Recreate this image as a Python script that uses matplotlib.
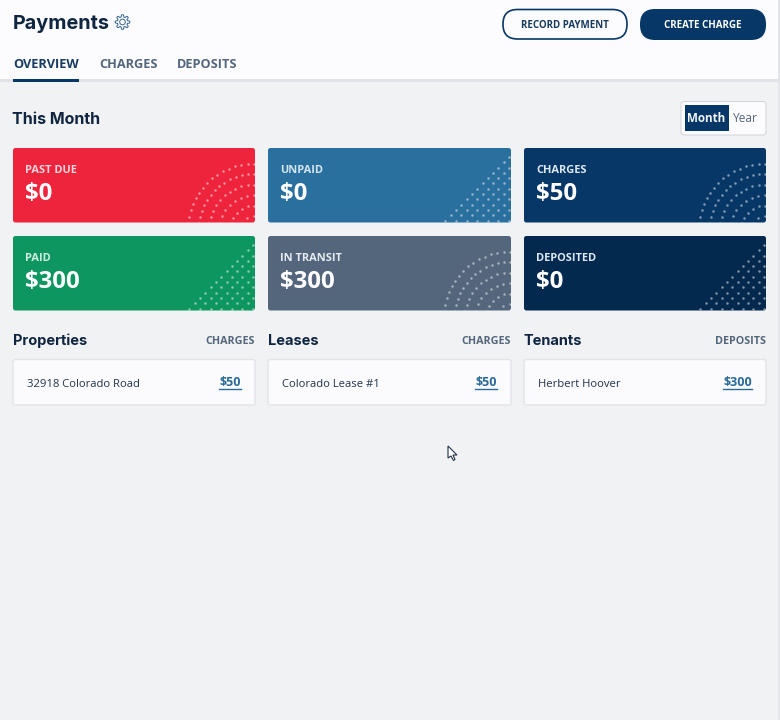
import matplotlib
matplotlib.use("Agg")
import matplotlib.pyplot as plt
from matplotlib.patches import FancyBboxPatch, Rectangle, Polygon, Circle
import numpy as np

BODY = "Open Sans"
HEAD = "Inter"
NAVY = "#063767"
INK = "#0F2540"
GREY = "#53667C"


def px(size):
    return size * 0.72


def box(x0, y0, x1, y1, fc, ec="none", r=3, lw=1.0, z=2):
    p = FancyBboxPatch((x0 + r, y0 + r), x1 - x0 - 2 * r, y1 - y0 - 2 * r,
                       boxstyle=f"round,pad={r},rounding_size={r}",
                       fc=fc, ec=ec, lw=lw, zorder=z)
    ax.add_patch(p)
    return p


def label(x, y, s, size, color, weight="normal", ha="left", family=BODY):
    ax.text(x, y, s, fontsize=px(size), color=color, fontweight=weight,
            ha=ha, va="baseline", family=family, zorder=6)


fig = plt.figure(figsize=(7.8, 7.2), dpi=100, facecolor="#F1F2F4")
ax = fig.add_axes([0, 0, 1, 1])
ax.set_xlim(0, 780)
ax.set_ylim(720, 0)
ax.set_axis_off()

# header
ax.add_patch(Rectangle((0, 0), 778, 79, fc="#FCFCFE", ec="none", zorder=1))
ax.add_patch(Rectangle((0, 79), 778, 3, fc="#E1E3E9", ec="none", zorder=1))
ax.add_patch(Rectangle((778, 0), 2, 720, fc="#E4E5E8", ec="none", zorder=1))
ax.add_patch(Rectangle((13, 79), 66, 3, fc=NAVY, ec="none", zorder=3))

label(12.5, 29, "Payments", 19.9, INK, "bold", family=HEAD)

# gear icon
t = np.linspace(0, 2 * np.pi, 97)
r_gear = 6.2 + 1.1 * np.clip(2.2 * np.cos(8 * t), -1, 1)
ax.add_patch(Polygon(np.c_[122.5 + r_gear * np.cos(t), 22 + r_gear * np.sin(t)],
                     closed=True, fc="none", ec="#3A6890", lw=0.7, zorder=5))
ax.add_patch(Circle((122.5, 22), 2.8, fc="none", ec="#3A6890", lw=0.7, zorder=5))

label(13, 68, "OVERVIEW", 12.7, "#173B61", "bold")
label(99.5, 68, "CHARGES", 12.7, GREY, "bold")
label(177, 68, "DEPOSITS", 12.8, GREY, "bold")

# buttons
box(503, 9.5, 627, 39, "#FCFCFE", NAVY, r=14.5, lw=1.2)
label(565, 27.5, "RECORD PAYMENT", 9.8, "#173B61", "bold", "center")
box(640, 9, 766, 40, NAVY, r=15)
label(703, 27.5, "CREATE CHARGE", 9.8, "#FFFFFF", "bold", "center")

label(12.5, 124, "This Month", 16, INK, "bold", family=HEAD)

# month / year toggle
box(681, 101.5, 766, 135, "#FCFCFE", "#D0D3DA", r=3, lw=0.7)
ax.add_patch(Rectangle((684.5, 105), 44, 26, fc=NAVY, ec="none", zorder=3))
label(706.5, 122, "Month", 11.6, "#F1F4F8", "bold", "center")
label(745.5, 122, "Year", 12, GREY, "normal", "center")

# stat cards
columns = [(13, 255), (268, 511), (524, 766)]
rows = [(148, 222.5), (236, 310.5)]
cards = [
    (0, 0, "PAST DUE", "$0", "#EE243D", "#F8D5DB", "arcs"),
    (1, 0, "UNPAID", "$0", "#29709F", "#D5E6F2", "diag"),
    (2, 0, "CHARGES", "$50", "#063767", "#DCE8F3", "arcs"),
    (0, 1, "PAID", "$300", "#0E9660", "#CFEDE2", "diag"),
    (1, 1, "IN TRANSIT", "$300", "#53667C", "#E6EBF1", "arcs"),
    (2, 1, "DEPOSITED", "$0", "#03294F", "#DCE8F3", "diag"),
]

for c, r, name, value, fc, tc, pattern in cards:
    x0, x1 = columns[c]
    y0, y1 = rows[r]
    card = box(x0, y0, x1, y1, fc, r=2.5)
    label(x0 + 12.3, y0 + 25, name, 11, tc, "bold")
    label(x0 + 12.3, y0 + 52, value, 24, "#FFFFFF", "bold")

    # decorative dots in the lower right corner
    if pattern == "arcs":
        cx, cy = x1 - 1, y1 + 7
        xs, ys = [], []
        for rad in [66, 55.5, 45, 34.5, 24, 13.5]:
            n = int(rad * np.pi / 2 / 6.2)
            a = np.linspace(0, np.pi / 2, n + 1)
            xs += list(cx - rad * np.cos(a))
            ys += list(cy - rad * np.sin(a))
    else:
        gx, gy = np.meshgrid(np.arange(-14, 15), np.arange(-14, 15))
        xs = (x1 - 2 + (gx + gy) * 5.3).ravel()
        ys = (y1 - 2 + (gx - gy) * 5.3).ravel()
        # keep the triangle under the diagonal of the corner
        keep = (x1 - xs) / 70 + (y1 - ys) / 70 < 1
        xs, ys = xs[keep], ys[keep]
    dots = ax.scatter(xs, ys, s=3.2, color="#FFFFFF", alpha=0.5, linewidths=0, zorder=4)
    dots.set_clip_path(card)

# lists
sections = [
    (0, "Properties", "CHARGES", "32918 Colorado Road", "$50"),
    (1, "Leases", "CHARGES", "Colorado Lease #1", "$50"),
    (2, "Tenants", "DEPOSITS", "Herbert Hoover", "$300"),
]
for c, title, head, item, amount in sections:
    x0, x1 = columns[c]
    label(x0, 345, title, 14.6, INK, "bold", family=HEAD)
    label(x1, 344, head, 10.8, GREY, "bold", "right")
    box(x0, 359.5, x1, 405, "#FBFBFD", "#E2E4EA", r=2.5, lw=1.0)
    label(x0 + 14, 387, item, 11.2, "#22344A", "normal")
    label(x1 - 14, 386.5, amount, 12.5, "#2A6B98", "bold", "right")
    width = 7.2 * len(amount)
    ax.plot([x1 - 14 - width, x1 - 14], [388.5, 388.5], color="#2A6B98", lw=1, zorder=6)

# mouse cursor
cursor = np.array([(448, 446), (448, 458), (451, 456), (453.5, 460.5),
                   (455, 459.5), (453, 455), (457, 455)])
ax.add_patch(Polygon(cursor, closed=True, fc="#FCFCFE", ec="#22344A", lw=0.8, zorder=7))

fig.savefig("out.png", dpi=100, facecolor=fig.get_facecolor())
